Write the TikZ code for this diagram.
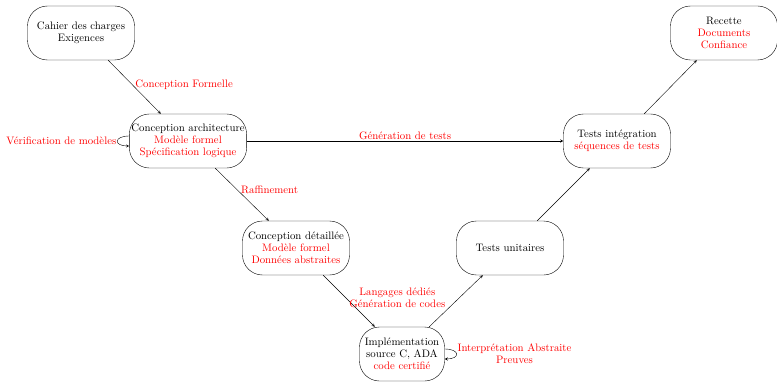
\documentclass[tikz,border=0pt]{standalone}
\usetikzlibrary{arrows}
\begin{document}
\begin{tikzpicture}[x=1pt, y=1pt, >=stealth,
  etape/.style={shape=rectangle, rounded corners=20pt, draw=black, align=center,
    minimum width=107pt, minimum height=54pt, inner sep=2pt,
    font=\fontsize{10.8}{12}\selectfont},
  note/.style={text=red, align=center, font=\fontsize{10.8}{12}\selectfont},
  lien/.style={->, draw=black}]
\useasboundingbox (0,0) rectangle (777,381);
% les etapes du cycle en V
\node[etape] (cahier) at (81,348) {Cahier des charges\\Exigences};
\node[etape] (archi) at (188,240) {Conception architecture\\\textcolor{red}{Modèle formel}\\\textcolor{red}{Spécification logique}};
\node[etape] (detail) at (296,133) {Conception détaillée\\\textcolor{red}{Modèle formel}\\\textcolor{red}{Données abstraites}};
\node[etape, minimum width=85pt] (impl) at (402,27) {Implémentation\\source C, ADA\\\textcolor{red}{code certifié}};
\node[etape] (unit) at (510,133) {Tests unitaires};
\node[etape] (integ) at (617,240) {Tests intégration\\\textcolor{red}{séquences de tests}};
\node[etape] (recette) at (724,348) {Recette\\\textcolor{red}{Documents}\\\textcolor{red}{Confiance}};
% descente
\draw [lien] (cahier.-45) -- node[note, right, pos=0.45] {Conception Formelle} (archi.135);
\draw [lien] (archi.-45) -- node[note, right, pos=0.42] {Raffinement} (detail.135);
\draw [lien] (detail.-45) -- node[note, right, pos=0.44] {Langages dédiés\\Génération de codes} (impl.135);
% remontee
\draw [lien] (impl.45) -- (unit.225);
\draw [lien] (unit.45) -- (integ.225);
\draw [lien] (integ.45) -- (recette.225);
\draw [lien] (archi) -- node[note, above, inner sep=1.5pt] {Génération de tests} (integ);
% boucles
\draw [lien] ([yshift=5pt]archi.west) to[out=180, in=180, looseness=4] node[note, left, inner sep=1pt] {Vérification de modèles} ([yshift=-5pt]archi.west);
\draw [lien] ([yshift=5pt]impl.east) to[out=0, in=0, looseness=4] node[note, right, inner sep=1pt] {Interprétation Abstraite\\Preuves} ([yshift=-5pt]impl.east);
\end{tikzpicture}
\end{document}
